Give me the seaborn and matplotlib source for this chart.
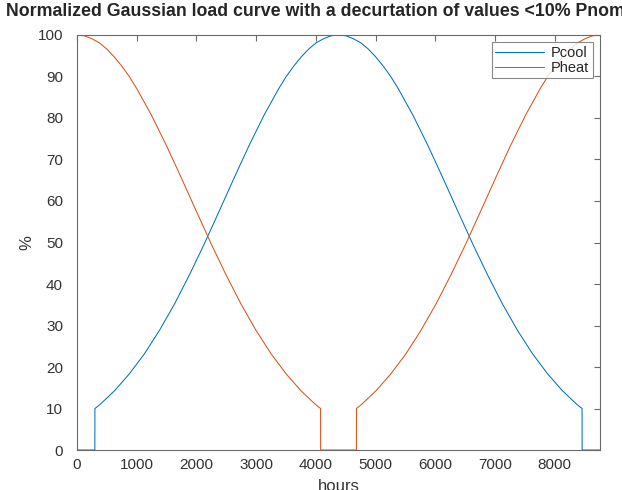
import numpy as np
import pandas as pd
import seaborn as sns
import matplotlib.pyplot as plt

# ------------------------------------------------------------
# Datos (curvas normalizadas, % de Pnom)
# ------------------------------------------------------------
cool_hours = [0, 299, 300, 380, 630, 880, 1130, 1380, 1630, 1880, 2130,
              2380, 2630, 2880, 3130, 3380, 3505, 3630, 3755, 3880, 4005,
              4130, 4255, 4380, 4505, 4630, 4755, 4880, 5005, 5130, 5255,
              5380, 5630, 5880, 6130, 6380, 6630, 6880, 7130, 7380, 7630,
              7880, 8130, 8380, 8460, 8461, 8760]
cool_pct = [0, 0, 10.0, 10.9, 14.3, 18.4, 23.2, 28.8, 35.1, 42.1, 49.6,
            57.5, 65.5, 73.3, 80.6, 87.1, 90.0, 92.5, 94.7, 96.6, 98.1,
            99.1, 99.8, 100.0, 99.8, 99.1, 98.1, 96.6, 94.7, 92.5, 90.0,
            87.1, 80.6, 73.3, 65.5, 57.5, 49.6, 42.1, 35.1, 28.8, 23.2,
            18.4, 14.3, 10.9, 10.0, 0, 0]

heat_hours = [0, 125, 250, 375, 500, 625, 750, 875, 1000, 1250, 1500,
              1750, 2000, 2250, 2500, 2750, 3000, 3250, 3500, 3750, 4000,
              4080, 4081, 4680, 4681, 4760, 5010, 5260, 5510, 5760, 6010,
              6260, 6510, 6760, 7010, 7260, 7510, 7760, 7885, 8010, 8135,
              8260, 8385, 8510, 8635, 8760]
heat_pct = [100.0, 99.8, 99.1, 98.1, 96.6, 94.7, 92.5, 90.0, 87.1, 80.6, 73.3,
            65.5, 57.5, 49.6, 42.1, 35.1, 28.8, 23.2, 18.4, 14.3, 10.9,
            10.0, 0, 0, 10.0, 10.9, 14.3, 18.4, 23.2, 28.8, 35.1,
            42.1, 49.6, 57.5, 65.5, 73.3, 80.6, 87.1, 90.0, 92.5, 94.7,
            96.6, 98.1, 99.1, 99.8, 100.0]

x_ticks = [0, 1000, 2000, 3000, 4000, 5000, 6000, 7000, 8000]
y_ticks = [0, 10, 20, 30, 40, 50, 60, 70, 80, 90, 100]

# colores por defecto de MATLAB
COLOR_COOL = "#0072BD"
COLOR_HEAT = "#D95319"

sns.set_style("white")
plt.rcParams["font.family"] = ["Liberation Sans", "DejaVu Sans"]

fig = plt.figure(figsize=(6.22, 4.90), dpi=100)
ax = fig.add_axes([0.1238, 0.0816, 0.8408, 0.847])

df_cool = pd.DataFrame({"hours": cool_hours, "pct": cool_pct})
df_heat = pd.DataFrame({"hours": heat_hours, "pct": heat_pct})

sns.lineplot(data=df_cool, x="hours", y="pct", ax=ax, color=COLOR_COOL,
             linewidth=0.75, estimator=None, sort=False, label="Pcool")
sns.lineplot(data=df_heat, x="hours", y="pct", ax=ax, color=COLOR_HEAT,
             linewidth=0.75, estimator=None, sort=False, label="Pheat")

ax.set_xlim(0, 8760)
ax.set_ylim(0, 100)
ax.set_xticks(x_ticks)
ax.set_yticks(y_ticks)

axis_grey = "#6a6a6a"
for side in ["left", "right", "top", "bottom"]:
    ax.spines[side].set_visible(True)
    ax.spines[side].set_color(axis_grey)
    ax.spines[side].set_linewidth(0.8)
ax.tick_params(direction="in", length=4, width=0.8, color=axis_grey,
               top=True, right=True, labelsize=11, labelcolor="#333333")
ax.tick_params(axis="x", pad=6)
ax.tick_params(axis="y", pad=10)

ax.set_xlabel("hours", fontsize=12, color="#333333", labelpad=5)
ax.set_ylabel("%", fontsize=12, color="#333333", labelpad=2)

# el titulo se sale por la derecha, como en la figura original
fig.text(6 / 622, 1 - 12 / 490,
         "Normalized Gaussian load curve with a decurtation of values <10% Pnom",
         fontsize=12.8, fontweight="bold", ha="left", va="center")

leg = ax.legend(loc="upper right", fontsize=10.5, frameon=True, fancybox=False,
                handlelength=3.3, borderaxespad=0.5, borderpad=0.25,
                labelspacing=0.05, handletextpad=0.5)
leg.get_frame().set_edgecolor(axis_grey)
leg.get_frame().set_linewidth(0.8)

fig.savefig("out.png", dpi=100)
